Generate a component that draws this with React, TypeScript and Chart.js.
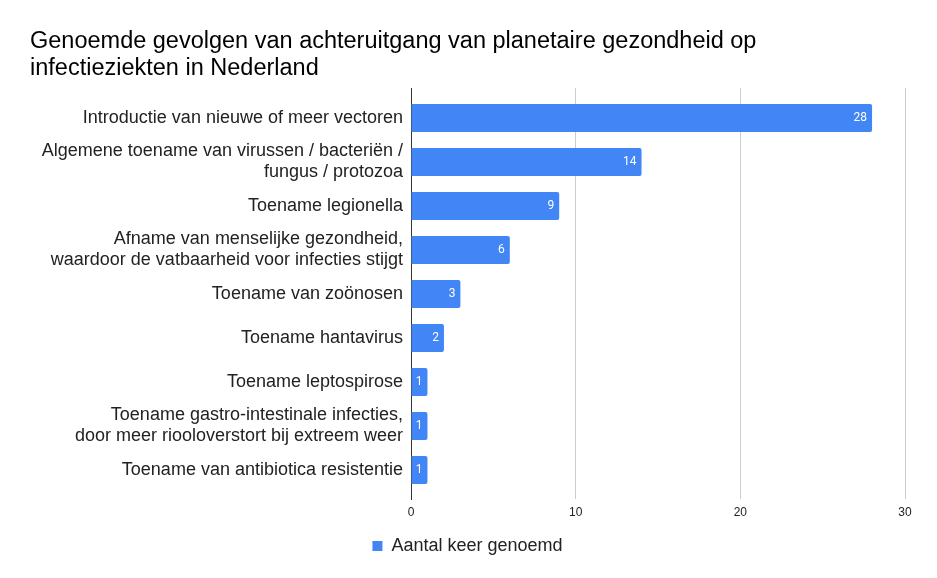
import React, { useEffect, useRef } from "react";
import { Chart, registerables } from "chart.js";

Chart.register(...registerables);

const titleLines = [
  "Genoemde gevolgen van achteruitgang van planetaire gezondheid op",
  "infectieziekten in Nederland",
];

const categories: (string | string[])[] = [
  "Introductie van nieuwe of meer vectoren",
  ["Algemene toename van virussen / bacteriën /", "fungus / protozoa"],
  "Toename legionella",
  ["Afname van menselijke gezondheid,", "waardoor de vatbaarheid voor infecties stijgt"],
  "Toename van zoönosen",
  "Toename hantavirus",
  "Toename leptospirose",
  ["Toename gastro-intestinale infecties,", "door meer riooloverstort bij extreem weer"],
  "Toename van antibiotica resistentie",
];

const counts = [28, 14, 9, 6, 3, 2, 1, 1, 1];

const seriesName = "Aantal keer genoemd";

const xTicks = [0, 10, 20, 30];

const FONT = "'Liberation Sans', Arial, sans-serif";

const barLabelPlugin = {
  id: "barLabels",
  afterDatasetsDraw(chart: any) {
    const ctx = chart.ctx;
    const meta = chart.getDatasetMeta(0);
    ctx.save();
    ctx.font = "12px Roboto, 'Liberation Sans', sans-serif";
    ctx.fillStyle = "#ffffff";
    ctx.textAlign = "right";
    ctx.textBaseline = "middle";
    meta.data.forEach((bar: any, i: number) => {
      const v = counts[i];
      ctx.fillText(String(v), bar.x - 5, bar.y);
    });
    ctx.restore();
  },
};

export default function App() {
  const ref = useRef<HTMLCanvasElement | null>(null);

  useEffect(() => {
    if (!ref.current) return;
    const chart = new Chart(ref.current, {
      type: "bar",
      data: {
        datasets: [
          {
            label: seriesName,
            data: counts.map((v, i) => ({ x: v, y: i })),
            backgroundColor: "#4285F4",
            borderRadius: 2,
            borderSkipped: "start",
            barPercentage: 0.64,
            categoryPercentage: 1,
          },
        ],
      },
      options: {
        indexAxis: "y",
        animation: false,
        responsive: true,
        maintainAspectRatio: false,
        layout: { padding: { left: 30, right: 32, top: 0, bottom: 13 } },
        plugins: {
          title: {
            display: true,
            text: titleLines,
            align: "start",
            color: "#000",
            font: { family: FONT, size: 23.5, weight: "normal", lineHeight: 1.15 },
            padding: { top: 28, bottom: 6 },
          },
          legend: {
            position: "bottom",
            labels: {
              boxWidth: 10,
              boxHeight: 10,
              padding: 11.6,
              color: "#222",
              font: { family: FONT, size: 18 },
            },
          },
          tooltip: { enabled: false },
        },
        scales: {
          x: {
            type: "linear",
            min: 0,
            max: 30,
            afterBuildTicks: (s: any) => {
              s.ticks = xTicks.map((v) => ({ value: v }));
            },
            grid: {
              color: "#cccccc",
              drawTicks: false,
            },
            border: { display: false },
            ticks: {
              padding: 6,
              color: "#222",
              font: { family: FONT, size: 12 },
            },
          },
          y: {
            type: "linear",
            reverse: true,
            offset: false,
            bounds: "data",
            min: -0.68,
            max: 8.66,
            afterBuildTicks: (s: any) => {
              s.ticks = categories.map((_, i) => ({ value: i }));
            },
            afterFit: (s: any) => {
              s.width = 381;
            },
            grid: { display: false, drawTicks: false, offset: false },
            border: { display: true, color: "#333333", width: 1 },
            ticks: {
              autoSkip: false,
              padding: 8,
              color: "#222",
              font: { family: FONT, size: 18, lineHeight: 1.17 },
              callback: (value: any) => categories[value as number] as any,
            },
          },
        },
      },
      plugins: [barLabelPlugin],
    });
    return () => chart.destroy();
  }, []);

  return (
    <div style={{ position: "absolute", left: 0, top: 0, width: 937, height: 578 }}>
      <canvas ref={ref} />
    </div>
  );
}
